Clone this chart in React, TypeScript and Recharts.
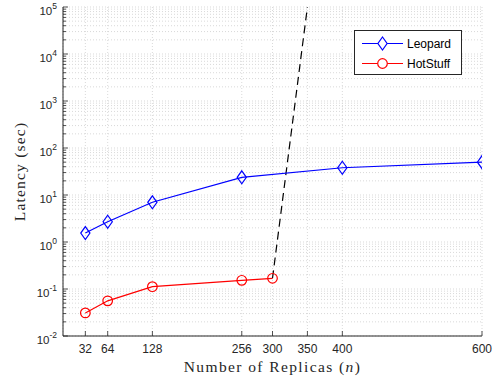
import React from 'react';
import { LineChart, Line, XAxis, YAxis, CartesianGrid } from 'recharts';

// ---- data ----
const xTicks = [32, 64, 128, 256, 300, 350, 400, 600];
const leopardN = [32, 64, 128, 256, 400, 600];
const leopardLatency = [1.55, 2.7, 7.0, 23.8, 38, 50];
const hotstuffN = [32, 64, 128, 256, 300];
const hotstuffLatency = [0.031, 0.056, 0.112, 0.153, 0.169];
const blowupN = [300, 350];
const blowupLatency = [0.169, 100000];
const yDecades = [0.01, 0.1, 1, 10, 100, 1000, 10000, 100000];
const yExponents = ['-2', '-1', '0', '1', '2', '3', '4', '5'];
const minorMultipliers = [2, 3, 4, 5, 6, 7, 8, 9];

const leopardData = leopardN.map((n, i) => ({ n, lat: leopardLatency[i] }));
const hotstuffData = hotstuffN.map((n, i) => ({ n, lat: hotstuffLatency[i] }));
const blowupData = blowupN.map((n, i) => ({ n, lat: blowupLatency[i] }));

const yTicks: number[] = [];
yDecades.forEach((d, i) => {
  yTicks.push(d);
  if (i < yDecades.length - 1) minorMultipliers.forEach((m) => yTicks.push(+(d * m).toPrecision(6)));
});

const AXIS = '#262626';
const GRID = '#cfcfcf';
const TM = 6;
const SANS = '"Liberation Sans", Arial, Helvetica, sans-serif';
const SERIF = '"Liberation Serif", "Times New Roman", serif';

const decadeIndex = (v: number) => yDecades.findIndex((d) => Math.abs(d - v) / d < 1e-6);

const LeftTick = (props: any) => {
  const { x, y, payload } = props;
  const idx = decadeIndex(payload.value);
  const ax = x + TM;
  return (
    <g>
      <line x1={ax} x2={ax + (idx >= 0 ? 5 : 3)} y1={y} y2={y} stroke={AXIS} strokeWidth={0.8} />
      {idx >= 0 && (
        <text x={x} y={y} textAnchor="end" fill={AXIS} fontFamily={SANS} fontSize={11.5}>
          <tspan dy={7.5}>10</tspan>
          <tspan dy={-6} fontSize={8.5}>{yExponents[idx]}</tspan>
        </text>
      )}
    </g>
  );
};

const RightTick = (props: any) => {
  const { x, y, payload } = props;
  const idx = decadeIndex(payload.value);
  return <line x1={x} x2={x - (idx >= 0 ? 5 : 3)} y1={y} y2={y} stroke={AXIS} strokeWidth={0.8} />;
};

const BottomTick = (props: any) => {
  const { x, y, payload } = props;
  const ay = y - 8;
  return (
    <g>
      <line x1={x} x2={x} y1={ay} y2={ay - 5} stroke={AXIS} strokeWidth={0.8} />
      <text x={x} y={ay + 17} textAnchor="middle" fill={AXIS} fontFamily={SANS} fontSize={12}>
        {payload.value}
      </text>
    </g>
  );
};

const TopTick = (props: any) => {
  const { x, y } = props;
  return <line x1={x} x2={x} y1={y} y2={y + 5} stroke={AXIS} strokeWidth={0.8} />;
};

const Diamond = (props: any) => {
  const { cx, cy } = props;
  if (cx == null || cy == null) return <g />;
  return (
    <polygon
      points={`${cx},${cy - 6.5} ${cx + 4.6},${cy} ${cx},${cy + 6.5} ${cx - 4.6},${cy}`}
      fill="none"
      stroke="#0000ff"
      strokeWidth={1.2}
    />
  );
};

const Ring = (props: any) => {
  const { cx, cy } = props;
  if (cx == null || cy == null) return <g />;
  return <circle cx={cx} cy={cy} r={4.8} fill="none" stroke="#ff0000" strokeWidth={1.2} />;
};

const LegendBox = () => (
  <svg width={108} height={46} style={{ display: 'block' }}>
    <rect x={0.5} y={0.5} width={107} height={44} fill="#fff" stroke={AXIS} strokeWidth={1} />
    <line x1={8} x2={49} y1={13.5} y2={13.5} stroke="#0000ff" strokeWidth={1.2} />
    <polygon points="28.5,7 33.1,13.5 28.5,20 23.9,13.5" fill="#fff" stroke="#0000ff" strokeWidth={1.2} />
    <text x={53} y={18} fontFamily={SANS} fontSize={12} fill="#000">Leopard</text>
    <line x1={8} x2={49} y1={33.5} y2={33.5} stroke="#ff0000" strokeWidth={1.2} />
    <circle cx={28.5} cy={33.5} r={4.8} fill="#fff" stroke="#ff0000" strokeWidth={1.2} />
    <text x={53} y={38} fontFamily={SANS} fontSize={12} fill="#000">HotStuff</text>
  </svg>
);

const YLabel = (props: any) => {
  const vb = props.viewBox || {};
  const cy = (vb.y || 0) + (vb.height || 0) / 2;
  const x = 25;
  return (
    <text
      x={x}
      y={cy}
      transform={`rotate(-90, ${x}, ${cy})`}
      textAnchor="middle"
      fontFamily={SERIF}
      fontSize={15.5}
      letterSpacing={1.2}
      fill={AXIS}
    >
      Latency (sec)
    </text>
  );
};

const XLabel = (props: any) => {
  const vb = props.viewBox || {};
  const cx = (vb.x || 0) + (vb.width || 0) / 2;
  const y = (vb.y || 0) + 36;
  return (
    <text x={cx} y={y} textAnchor="middle" fontFamily={SERIF} fontSize={15.5} letterSpacing={1.4} fill={AXIS}>
      Number of Replicas (<tspan fontStyle="italic">n</tspan>)
    </text>
  );
};

export default function App() {
  return (
    <div style={{ position: 'absolute', left: 0, top: 0, width: 493, height: 381, background: '#fff' }}>
      <LineChart width={493} height={381} margin={{ top: 7, right: 11, bottom: 0, left: 0 }}>
        <CartesianGrid stroke={GRID} strokeDasharray="1 2" strokeWidth={0.8} />
        <XAxis
          dataKey="n"
          type="number"
          domain={[0, 600]}
          ticks={xTicks}
          allowDataOverflow
          height={45}
          tickSize={0}
          tickMargin={8}
          tickLine={false}
          axisLine={{ stroke: AXIS, strokeWidth: 1 }}
          tick={<BottomTick />}
          interval={0}
          label={<XLabel />}
        />
        <XAxis
          xAxisId="top"
          orientation="top"
          dataKey="n"
          type="number"
          domain={[0, 600]}
          ticks={xTicks}
          allowDataOverflow
          height={0}
          tickSize={0}
          tickMargin={0}
          tickLine={false}
          axisLine={{ stroke: AXIS, strokeWidth: 1 }}
          tick={<TopTick />}
          interval={0}
        />
        <YAxis
          type="number"
          scale="log"
          domain={[0.01, 100000]}
          ticks={yTicks}
          allowDataOverflow
          width={63}
          tickSize={0}
          tickMargin={TM}
          tickLine={false}
          axisLine={{ stroke: AXIS, strokeWidth: 1 }}
          tick={<LeftTick />}
          interval={0}
          label={<YLabel />}
        />
        <YAxis
          yAxisId="right"
          orientation="right"
          type="number"
          scale="log"
          domain={[0.01, 100000]}
          ticks={yTicks}
          allowDataOverflow
          width={0}
          tickSize={0}
          tickMargin={0}
          tickLine={false}
          axisLine={{ stroke: AXIS, strokeWidth: 1 }}
          tick={<RightTick />}
          interval={0}
        />
        <Line
          data={blowupData}
          dataKey="lat"
          name="blowup"
          stroke="#000"
          strokeWidth={1.2}
          strokeDasharray="8 5"
          dot={false}
          isAnimationActive={false}
        />
        <Line
          data={leopardData}
          dataKey="lat"
          name="Leopard"
          stroke="#0000ff"
          strokeWidth={1.2}
          dot={<Diamond />}
          isAnimationActive={false}
        />
        <Line
          data={hotstuffData}
          dataKey="lat"
          name="HotStuff"
          stroke="#ff0000"
          strokeWidth={1.2}
          dot={<Ring />}
          isAnimationActive={false}
        />
      </LineChart>
      <div style={{ position: 'absolute', left: 354, top: 30 }}>
        <LegendBox />
      </div>
    </div>
  );
}
